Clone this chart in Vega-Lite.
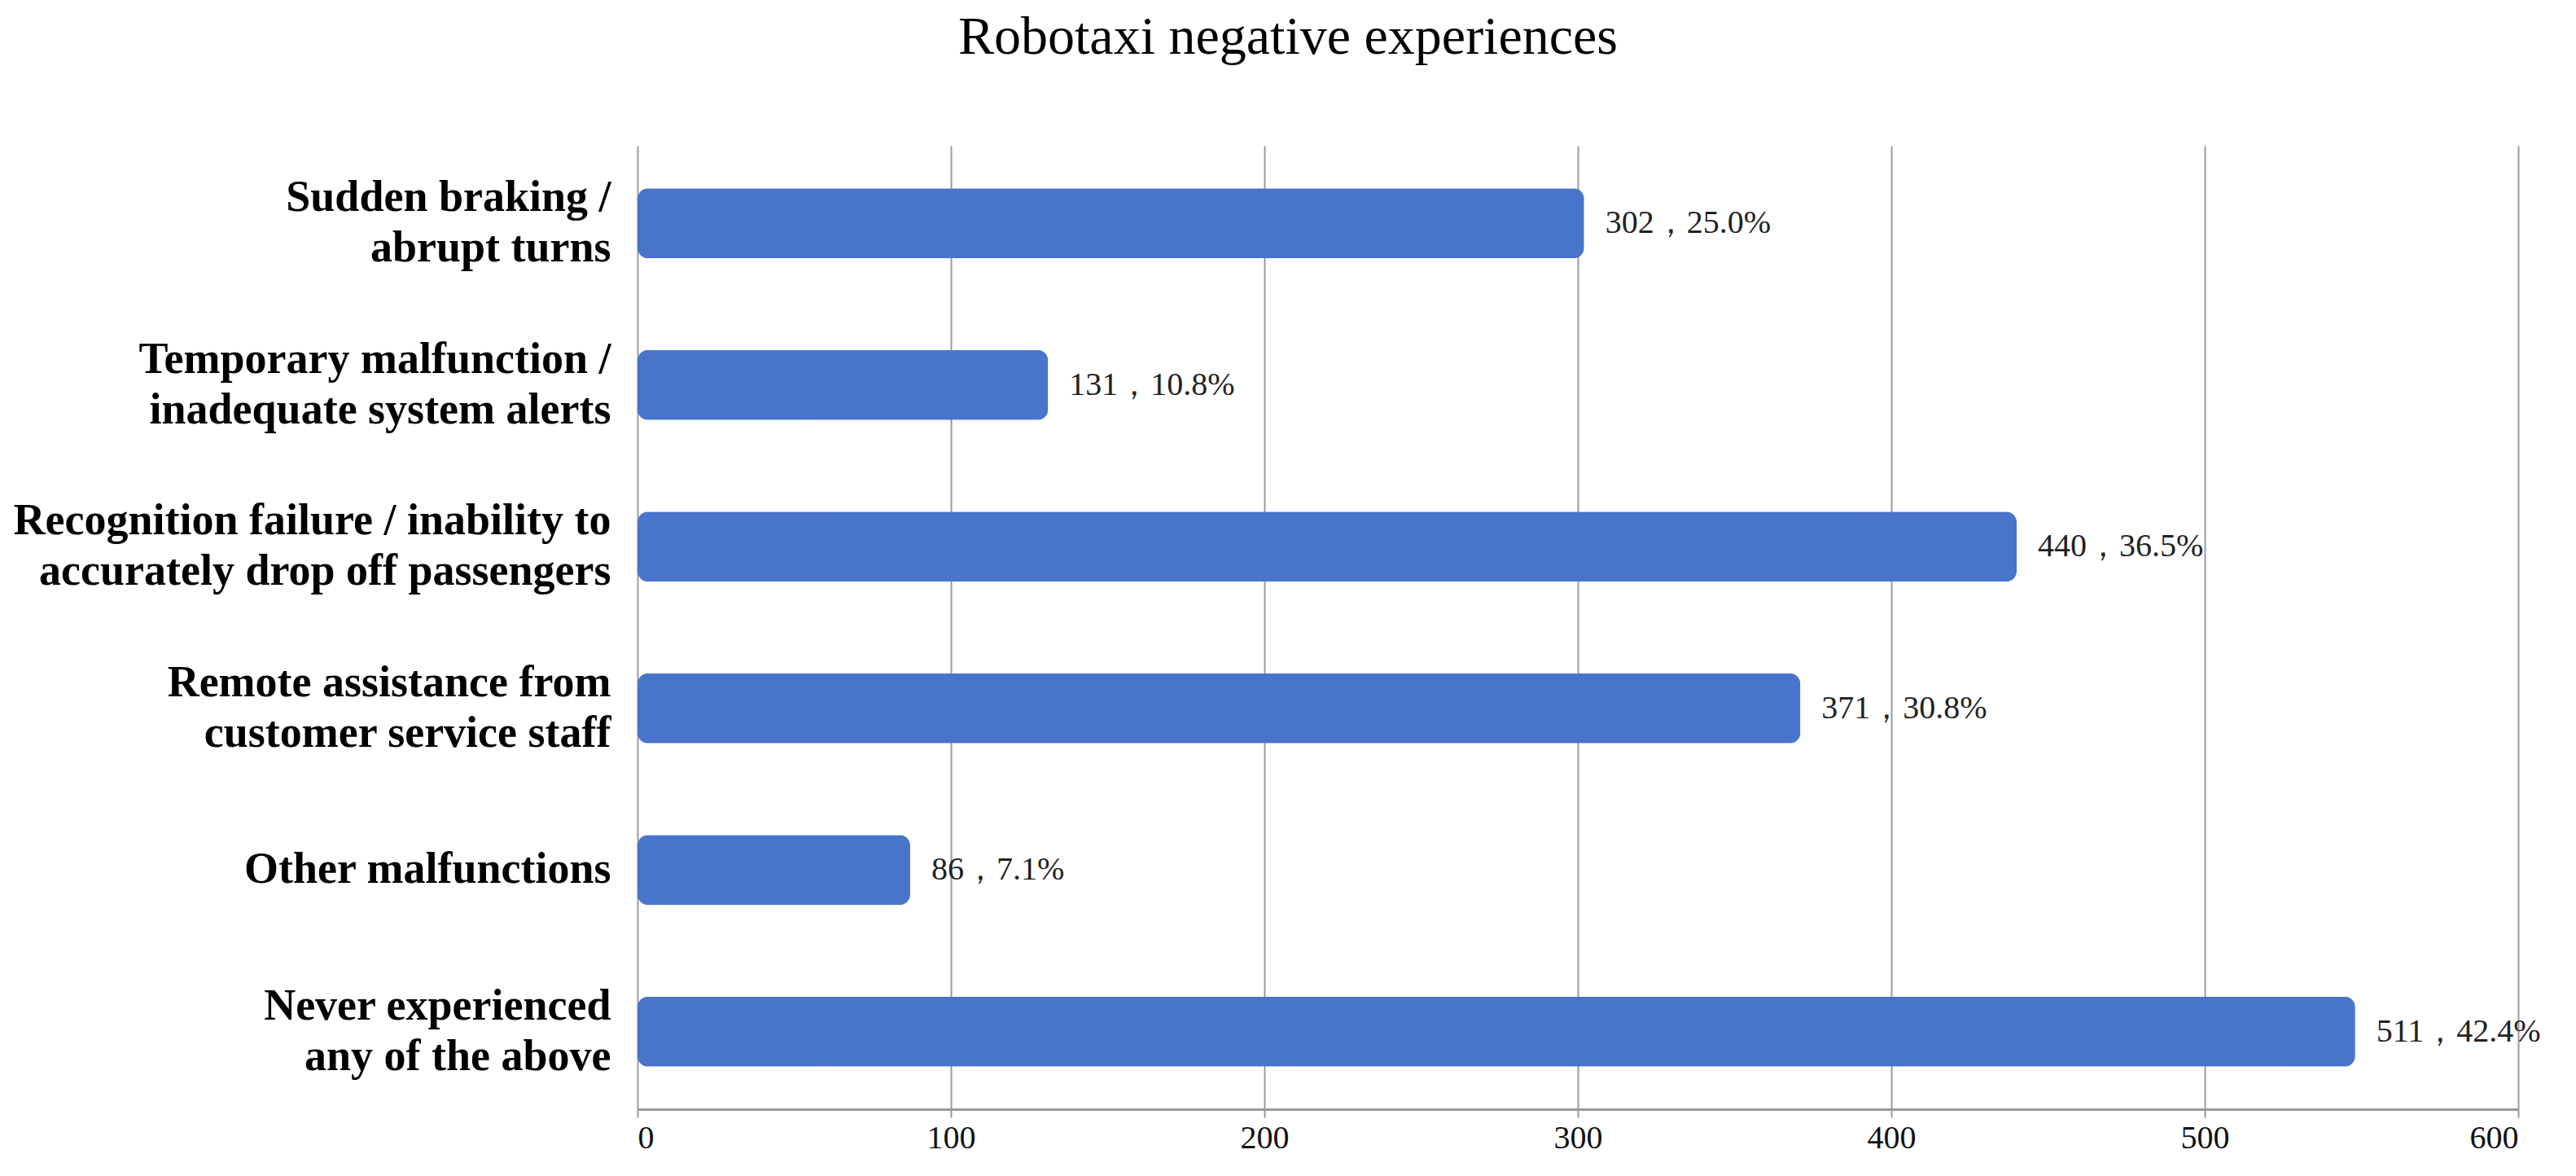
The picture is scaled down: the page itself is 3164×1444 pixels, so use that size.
{
  "$schema": "https://vega.github.io/schema/vega-lite/v6.json",
  "autosize": {"type": "none"},
  "padding": {"left": 783, "top": 179, "right": 71, "bottom": 82},
  "width": 2310,
  "height": 1183,
  "background": "white",
  "title": {
    "text": "Robotaxi negative experiences",
    "font": "Liberation Serif",
    "fontSize": 66,
    "fontWeight": "normal",
    "color": "#000000",
    "anchor": "middle",
    "dx": -356,
    "offset": 99
  },
  "config": {
    "view": {"stroke": null}
  },
  "data": {
    "values": [
      {"category": "Sudden braking /|abrupt turns", "bar": 302, "label": "302，25.0%"},
      {"category": "Temporary malfunction /|inadequate system alerts", "bar": 131, "label": "131，10.8%"},
      {"category": "Recognition failure / inability to|accurately drop off passengers", "bar": 440, "label": "440，36.5%"},
      {"category": "Remote assistance from|customer service staff", "bar": 371, "label": "371，30.8%"},
      {"category": "Other malfunctions", "bar": 87, "label": "86，7.1%"},
      {"category": "Never experienced|any of the above", "bar": 548, "label": "511，42.4%"}
    ]
  },
  "encoding": {
    "y": {
      "field": "category",
      "type": "nominal",
      "sort": null,
      "title": null,
      "scale": {"paddingInner": 0.567, "paddingOuter": 0.263},
      "axis": {
        "ticks": false,
        "domain": false,
        "grid": false,
        "labelExpr": "split(datum.label, '|')",
        "labelFont": "Liberation Serif",
        "labelFontWeight": "bold",
        "labelFontSize": 54,
        "labelLineHeight": 62,
        "labelColor": "#000000",
        "labelPadding": 33,
        "labelLimit": 0,
        "labelOffset": {"condition": {"test": "indexof(datum.value, '|') >= 0", "value": -31}, "value": 0}
      }
    },
    "x": {
      "field": "bar",
      "type": "quantitative",
      "title": null,
      "scale": {"domain": [0, 600], "nice": false},
      "axis": {
        "values": [0, 100, 200, 300, 400, 500, 600],
        "grid": true,
        "gridColor": "#979AA8",
        "gridWidth": 2,
        "domain": true,
        "domainColor": "#999999",
        "domainWidth": 3,
        "ticks": true,
        "tickColor": "#999999",
        "tickWidth": 2,
        "tickSize": 10,
        "labelFont": "Liberation Serif",
        "labelFontSize": 40,
        "labelColor": "#111111",
        "labelPadding": 5
      }
    }
  },
  "layer": [
    {
      "mark": {"type": "bar", "color": "#4874CB", "cornerRadius": 13}
    },
    {
      "mark": {
        "type": "text",
        "align": "left",
        "baseline": "middle",
        "dx": 26,
        "font": "Liberation Serif",
        "fontSize": 40,
        "color": "#222222"
      },
      "encoding": {
        "text": {"field": "label", "type": "nominal"}
      }
    }
  ]
}
